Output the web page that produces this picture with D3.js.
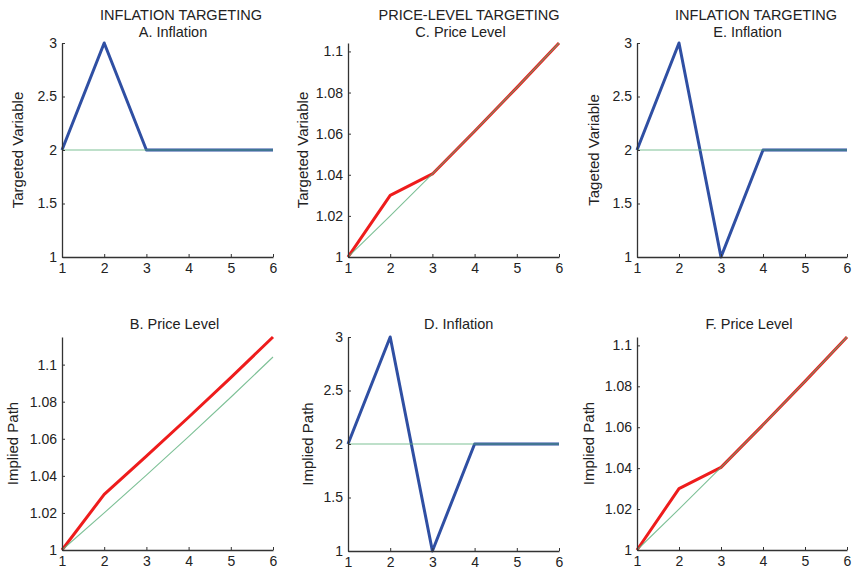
<!DOCTYPE html>
<html><head><meta charset="utf-8">
<script src="https://cdn.jsdelivr.net/npm/d3@7"></script>
<style>body{margin:0;background:#fff}svg{display:block}text{font-family:"Liberation Sans",Arial,sans-serif;fill:#222}</style>
</head><body><svg id="c" width="854" height="571"></svg>
<script>
const periods = [1, 2, 3, 4, 5, 6];
const xTicks = [1, 2, 3, 4, 5, 6];
const inflTicks = [1, 1.5, 2, 2.5, 3];
const priceTicks = [1, 1.02, 1.04, 1.06, 1.08, 1.1];
// Inflation targeting
const itInflation = [2, 3, 2, 2, 2, 2];
const itPrice = [1, 1.03, 1.0506, 1.0716, 1.0930, 1.1149];
// Price-level targeting
const pltPrice = [1, 1.03, 1.0404, 1.0612, 1.0824, 1.1041];
const pltInflation = [2, 3, 1, 2, 2, 2];
// Targets
const targetInflation = [2, 2, 2, 2, 2, 2];
const targetPrice = [1, 1.02, 1.0404, 1.0612, 1.0824, 1.1041];

const titles1 = ["INFLATION TARGETING", "PRICE-LEVEL TARGETING", "INFLATION TARGETING"];
const titles2 = ["A. Inflation", "C. Price Level", "E. Inflation", "B. Price Level", "D. Inflation", "F. Price Level"];
const yLabels = ["Targeted Variable", "Targeted Variable", "Tageted Variable", "Implied Path", "Implied Path", "Implied Path"];

const svg = d3.select("#c");
const BLUE = "#2f4fa3", RED = "#ee1c1c", GREEN = "#5cb07c";

const panels = [
  {x0:62, x1:273, y0:257, y1:43, ymax:3, ticks:inflTicks, main:itInflation, target:targetInflation, color:BLUE, t1:titles1[0], t1x:181, t2:titles2[0], t2x:173, t2y:36.5, yl:yLabels[0], ylx:17.5},
  {x0:348, x1:559, y0:257, y1:43, ymax:1.1041, ticks:priceTicks, main:pltPrice, target:targetPrice, color:RED, t1:titles1[1], t1x:469, t2:titles2[1], t2x:460.5, t2y:36.5, yl:yLabels[1], ylx:303},
  {x0:637, x1:847, y0:257, y1:43, ymax:3, ticks:inflTicks, main:pltInflation, target:targetInflation, color:BLUE, t1:titles1[2], t1x:756, t2:titles2[2], t2x:747.5, t2y:36.5, yl:yLabels[2], ylx:594},
  {x0:62, x1:273, y0:550, y1:337, ymax:1.1149, ticks:priceTicks, main:itPrice, target:targetPrice, color:RED, t2:titles2[3], t2x:174.5, t2y:328.5, yl:yLabels[3], ylx:12.5},
  {x0:348, x1:559, y0:551, y1:337, ymax:3, ticks:inflTicks, main:pltInflation, target:targetInflation, color:BLUE, t2:titles2[4], t2x:458.7, t2y:328.5, yl:yLabels[4], ylx:308},
  {x0:637, x1:847, y0:550, y1:337, ymax:1.1041, ticks:priceTicks, main:pltPrice, target:targetPrice, color:RED, t2:titles2[5], t2x:749, t2y:328.5, yl:yLabels[5], ylx:589}
];

panels.forEach(p => {
  const x = d3.scaleLinear().domain([1, 6]).range([p.x0, p.x1]);
  const y = d3.scaleLinear().domain([1, p.ymax]).range([p.y0, p.y1]);
  const g = svg.append("g");

  const line = d3.line().x((d, i) => x(periods[i])).y(d => y(d));
  g.append("path").datum(p.main).attr("d", line)
    .attr("fill", "none").attr("stroke", p.color).attr("stroke-width", 3).attr("stroke-linejoin", "round");
  g.append("path").datum(p.target).attr("d", line)
    .attr("fill", "none").attr("stroke", GREEN).attr("stroke-width", 1.1).attr("stroke-opacity", 0.8);

  const fmt = d => d3.format("~g")(d);
  const xa = g.append("g").attr("transform", `translate(0,${p.y0})`)
    .call(d3.axisBottom(x).tickValues(xTicks).tickSizeInner(-3).tickSizeOuter(0).tickPadding(6).tickFormat(fmt));
  const ya = g.append("g").attr("transform", `translate(${p.x0},0)`)
    .call(d3.axisLeft(y).tickValues(p.ticks).tickSizeInner(-3).tickSizeOuter(0).tickPadding(5).tickFormat(fmt));
  [xa, ya].forEach(a => {
    a.select(".domain").attr("stroke", "#333").attr("stroke-width", 1.3);
    a.selectAll(".tick line").attr("stroke", "#333");
    a.selectAll(".tick text").attr("font-size", 14).attr("fill", "#222")
      .style("font-family", '"Liberation Sans",Arial,sans-serif');
  });

  if (p.t1) g.append("text").attr("x", p.t1x).attr("y", 20).attr("text-anchor", "middle").attr("font-size", 14.5).text(p.t1);
  g.append("text").attr("x", p.t2x).attr("y", p.t2y).attr("text-anchor", "middle").attr("font-size", 14.5).text(p.t2);
  g.append("text").attr("transform", `translate(${p.ylx + 5},${(p.y0 + p.y1) / 2}) rotate(-90)`)
    .attr("text-anchor", "middle").attr("font-size", 15).text(p.yl);
});
</script></body></html>
